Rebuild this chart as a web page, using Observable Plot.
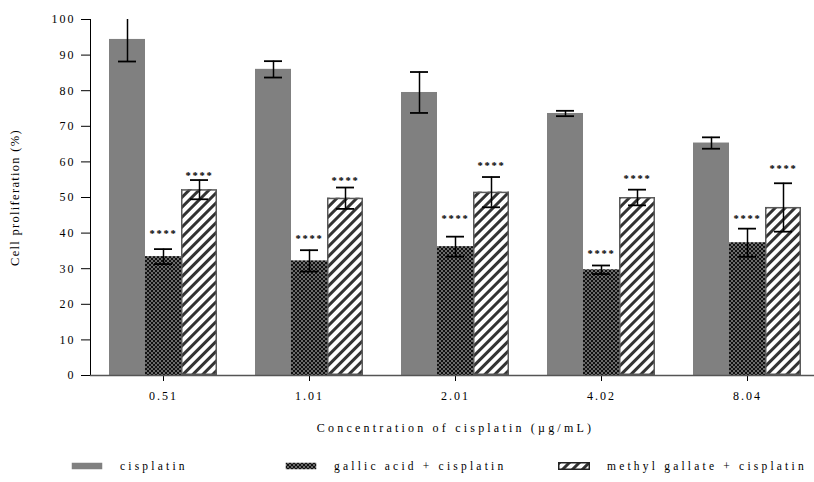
<!DOCTYPE html>
<html><head><meta charset="utf-8">
<script src="https://cdn.jsdelivr.net/npm/d3@7"></script>
<script src="https://cdn.jsdelivr.net/npm/@observablehq/plot@0.6"></script>
<style>
body{margin:0;background:#fff;font-family:"Liberation Serif","Times New Roman",serif;}
#wrap{position:relative;width:814px;height:482px;overflow:hidden;}
#legend{position:absolute;left:0;top:459px;width:814px;height:16px;font-size:11.5px;letter-spacing:3.2px;color:#000;}
#legend .item{position:absolute;top:0;display:flex;align-items:center;height:14px;}
#legend .item svg{display:block;margin-right:17px;}
#legend .item:nth-child(1){left:71px;}
#legend .item:nth-child(2){left:285px;}
#legend .item:nth-child(3){left:558px;}
svg [aria-label="y-axis tick label"] text,
svg [aria-label="fx-axis tick label"] text{font-size:12px;letter-spacing:2px;}
svg [aria-label="y-axis label"] text{font-size:12.5px;letter-spacing:1.3px;}
svg [aria-label="fx-axis label"] text{font-size:12px;letter-spacing:3.2px;}
</style></head><body>
<svg width="0" height="0" style="position:absolute">
  <defs>
    <pattern id="checker" width="4" height="4" patternUnits="userSpaceOnUse">
      <rect width="4" height="4" fill="#6a6a6a"/>
      <rect width="2" height="2" fill="#111"/>
      <rect x="2" y="2" width="2" height="2" fill="#111"/>
    </pattern>
    <pattern id="stripes" width="7" height="7" patternUnits="userSpaceOnUse" patternTransform="rotate(45)">
      <rect width="7" height="7" fill="#fff"/>
      <rect width="3" height="7" fill="#333"/>
    </pattern>
  </defs>
</svg>
<div id="wrap"><div id="chart"></div><div id="legend"></div></div>
<script>
const concentrations = ["0.51", "1.01", "2.01", "4.02", "8.04"];
const series = ["cisplatin", "gallic acid + cisplatin", "methyl gallate + cisplatin"];
const cisplatinMean = [94.4, 86.0, 79.5, 73.6, 65.3];
const cisplatinErr  = [6.2, 2.3, 5.75, 0.75, 1.6];
const gallicMean    = [33.4, 32.2, 36.2, 29.7, 37.3];
const gallicErr     = [2.1, 3.0, 2.8, 1.2, 3.95];
const methylMean    = [52.2, 49.8, 51.5, 50.0, 47.2];
const methylErr     = [2.7, 3.0, 4.25, 2.2, 6.8];
const gallicStarY   = [40.2, 38.8, 44.4, 34.5, 44.4];
const methylStarY   = [56.5, 55.1, 59.1, 55.6, 58.4];
const yTicks = [0, 10, 20, 30, 40, 50, 60, 70, 80, 90, 100];
const starText = "****";
const fills = ["#808080", "url(#checker)", "url(#stripes)"];

const means = [cisplatinMean, gallicMean, methylMean];
const errs = [cisplatinErr, gallicErr, methylErr];
const rows = [];
series.forEach((s, i) => concentrations.forEach((c, j) => {
  rows.push({conc: c, series: s, mean: means[i][j], err: errs[i][j]});
}));
const stars = [];
concentrations.forEach((c, j) => {
  stars.push({conc: c, series: series[1], y: gallicStarY[j]});
  stars.push({conc: c, series: series[2], y: methylStarY[j]});
});

const chart = Plot.plot({
  width: 814, height: 445,
  marginTop: 19, marginBottom: 70, marginLeft: 89, marginRight: 0,
  style: {fontFamily: "'Liberation Serif', 'Times New Roman', serif", fontSize: "11px", letterSpacing: "1.8px", color: "#000", background: "#fff"},
  fx: {domain: concentrations, range: [89, 821.5], padding: 0, label: "Concentration of cisplatin (µg/mL)", labelAnchor: "center", labelOffset: 56, tickSize: 6, tickPadding: 10},
  x: {domain: series, paddingInner: 0, paddingOuter: 0.5, axis: null},
  y: {domain: [0, 100], ticks: yTicks, tickSize: 9, tickPadding: 6, label: "Cell proliferation (%)", labelAnchor: "center", labelOffset: 80, labelArrow: "none", line: true},
  color: {domain: series, range: fills},
  marks: [
    Plot.barY(rows, {fx: "conc", x: "series", y: "mean", fill: "series"}),
    Plot.barY(rows.filter(d => d.series === series[2]), {fx: "conc", x: "series", y: "mean", fill: "none", stroke: "#5a5a5a", strokeWidth: 1.5, inset: 0.75}),
    Plot.ruleY([0], {stroke: "#555", strokeWidth: 1.5}),
    Plot.ruleX(rows, {fx: "conc", x: "series", y1: d => d.mean - d.err, y2: d => d.mean + d.err, stroke: "#000", strokeWidth: 1.5, clip: true}),
    Plot.tickY(rows, {fx: "conc", x: "series", y: d => d.mean + d.err, stroke: "#000", strokeWidth: 1.8, insetLeft: 9, insetRight: 9, clip: true}),
    Plot.tickY(rows, {fx: "conc", x: "series", y: d => d.mean - d.err, stroke: "#000", strokeWidth: 1.8, insetLeft: 9, insetRight: 9, clip: true}),
    Plot.text(stars, {fx: "conc", x: "series", y: "y", text: () => starText, fontSize: 10.5, fontWeight: "bold", dy: 1, fill: "#000", style: "letter-spacing:1.3px"})
  ]
});
document.getElementById("chart").appendChild(chart);

const legend = document.getElementById("legend");
series.forEach((s, i) => {
  const item = document.createElement("div");
  item.className = "item";
  const border = i === 2 ? ' stroke="#222" stroke-width="1.5"' : '';
  item.innerHTML = `<svg width="32" height="8"><rect x="0.75" y="0.75" width="30.5" height="6.5" fill="${fills[i]}"${border}/></svg><span>${s}</span>`;
  legend.appendChild(item);
});
</script>
</body></html>
